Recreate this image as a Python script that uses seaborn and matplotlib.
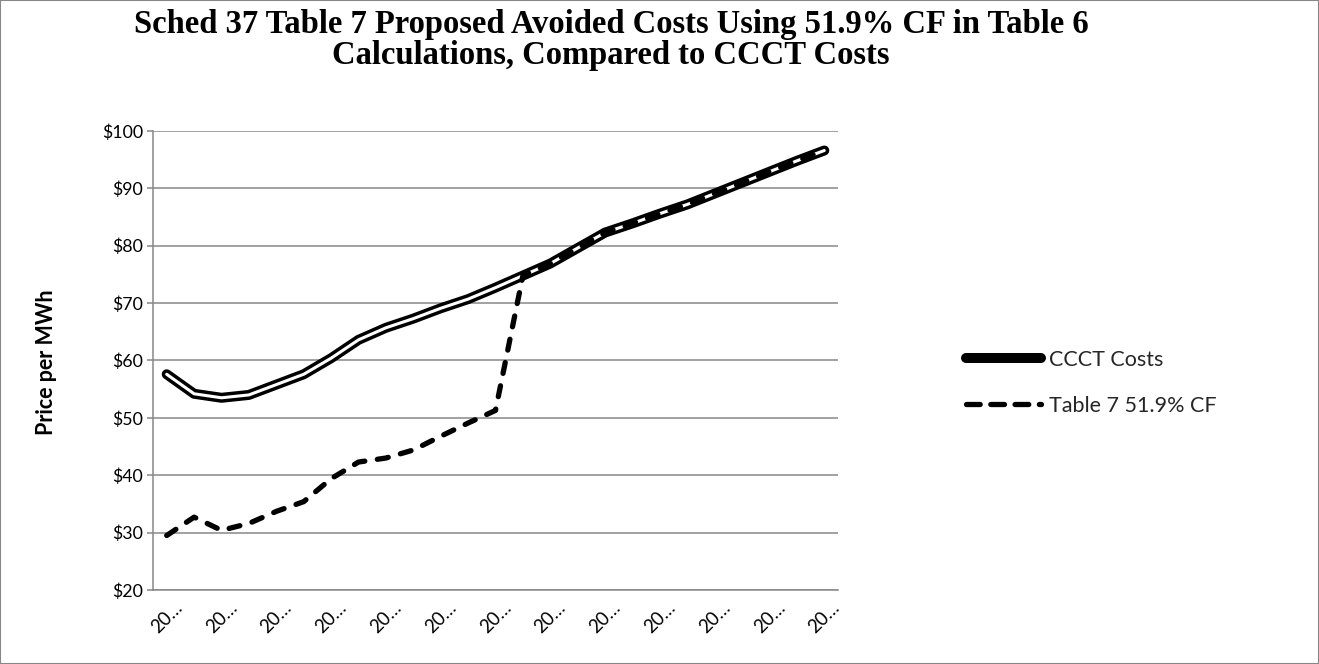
import matplotlib
matplotlib.use("Agg")
import matplotlib.pyplot as plt
from matplotlib.lines import Line2D
from matplotlib.patches import Rectangle
import pandas as pd
import seaborn as sns

# ---- data -------------------------------------------------------------
period = list(range(25))
ccct_costs = [57.6, 54.2, 53.5, 54.0, 55.8, 57.6, 60.4, 63.6, 65.7, 67.3,
              69.1, 70.7, 72.7, 74.8, 76.9, 79.6, 82.3, 83.9, 85.6, 87.2,
              89.1, 91.0, 92.9, 94.8, 96.6]
table7_cf = [29.5, 32.7, 30.4, 31.6, 33.7, 35.4, 39.4, 42.3, 43.0, 44.4,
             46.8, 49.1, 51.3, 74.8, 76.9, 79.6, 82.3, 83.9, 85.6, 87.2,
             89.1, 91.0, 92.9, 94.8, 96.6]
tick_positions = [0, 2, 4, 6, 8, 10, 12, 14, 16, 18, 20, 22, 24]
tick_labels = ["20…"] * 13
y_ticks = [20, 30, 40, 50, 60, 70, 80, 90, 100]

df = pd.DataFrame({"period": period, "ccct": ccct_costs, "t7": table7_cf})

# ---- style ------------------------------------------------------------
sns.set_theme(style="white")
plt.rcParams["font.family"] = ["Lato", "DejaVu Sans"]
GRID = "#878787"
TICK_FS = 12.8
TXT = 15.5

W, H = 1319, 664
fig = plt.figure(figsize=(W / 100, H / 100), dpi=100)
ax = fig.add_axes([153 / W, 1 - 590 / H, (838 - 153) / W, (590 - 131) / H])

# CCCT costs: thick black line with a thin white core (double line)
sns.lineplot(data=df, x="period", y="ccct", ax=ax, color="black",
             linewidth=7.2, solid_capstyle="round", solid_joinstyle="round",
             errorbar=None, legend=False, zorder=3)
sns.lineplot(data=df, x="period", y="ccct", ax=ax, color="white",
             linewidth=2.2, solid_capstyle="round", solid_joinstyle="round",
             errorbar=None, legend=False, zorder=4)
# Table 7 at 51.9% CF: dashed black line drawn on top
sns.lineplot(data=df, x="period", y="t7", ax=ax, color="black",
             linewidth=3.8, linestyle=(0, (2.1, 2.4)),
             dash_capstyle="round", dash_joinstyle="round",
             errorbar=None, legend=False, zorder=5)

ax.set_xlim(-0.5, 24.5)
ax.set_ylim(20, 100)
ax.set_yticks(y_ticks)
ax.set_yticklabels([f"${v}" for v in y_ticks], fontsize=TICK_FS)
ax.set_xticks(tick_positions)
ax.set_xticklabels(tick_labels, rotation=45, ha="center", va="top",
                   fontsize=TICK_FS + 0.7)
ax.set_xlabel("")
ax.set_ylabel("")

ax.grid(axis="y", color=GRID, linewidth=1.1)
ax.grid(axis="x", visible=False)
ax.set_axisbelow(True)
for side in ("top", "right"):
    ax.spines[side].set_visible(False)
for side in ("left", "bottom"):
    ax.spines[side].set_color(GRID)
    ax.spines[side].set_linewidth(1.1)
ax.tick_params(axis="y", which="both", left=True, length=4, width=1.1,
               color=GRID, pad=3, labelcolor="black")
ax.tick_params(axis="x", which="both", bottom=False, length=0, pad=6,
               labelcolor="black")

# titles
fig.text(611 / W, 1 - 40 / H,
         "Sched 37 Table 7 Proposed Avoided Costs Using 51.9% CF in Table 6\n"
         "Calculations, Compared to CCCT Costs",
         ha="center", va="center", multialignment="center",
         family="Liberation Serif", fontweight="bold", fontsize=23.5,
         linespacing=1.0, color="black")
fig.text(47 / W, 1 - 362 / H, "Price per MWh", rotation=90,
         ha="center", va="center", fontweight="bold", fontsize=TXT,
         color="black")

# legend
handles = [
    Line2D([], [], color="black", linewidth=7.2, solid_capstyle="round"),
    Line2D([], [], color="black", linewidth=3.8, linestyle=(0, (2.6, 2.0)),
           dash_capstyle="round"),
]
fig.legend(handles, ["CCCT Costs", "Table 7 51.9% CF"],
           loc="upper left", bbox_to_anchor=(966 / W, 1 - 350 / H),
           frameon=False, fontsize=TXT, handlelength=3.5,
           handletextpad=0.35, labelspacing=1.2, borderpad=0,
           borderaxespad=0)

# chart-area border
fig.patches.append(Rectangle((0, 0), 1, 1, transform=fig.transFigure,
                             fill=False, edgecolor=GRID, linewidth=1.5))

fig.savefig("out.png", dpi=100, facecolor="white")
